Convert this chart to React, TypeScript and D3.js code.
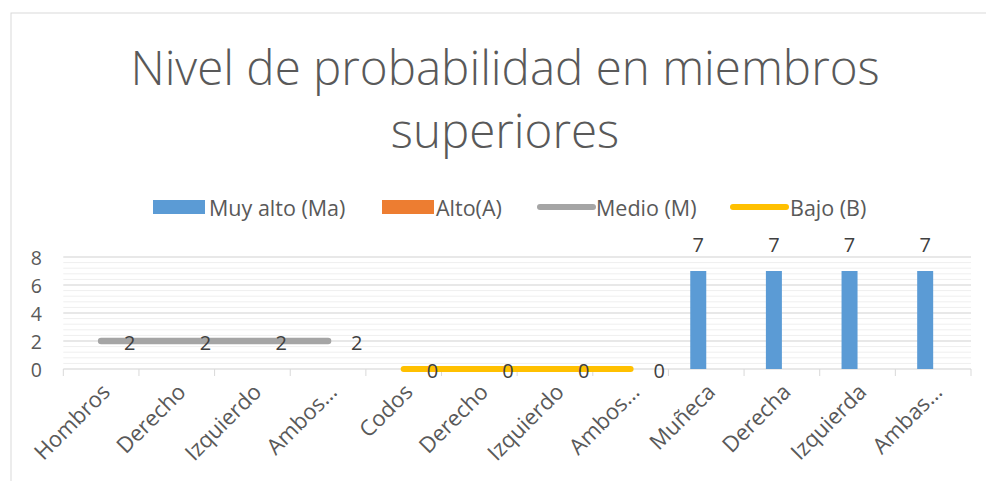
import React from "react";
import * as d3 from "d3";

const categories = [
  "Hombros", "Derecho", "Izquierdo", "Ambos…",
  "Codos", "Derecho", "Izquierdo", "Ambos…",
  "Muñeca", "Derecha", "Izquierda", "Ambas…",
];
const muyAlto: (number | null)[] = [null, null, null, null, null, null, null, null, 7, 7, 7, 7];
const alto: (number | null)[] = [null, null, null, null, null, null, null, null, null, null, null, null];
const medio: (number | null)[] = [2, 2, 2, 2, null, null, null, null, null, null, null, null];
const bajo: (number | null)[] = [null, null, null, null, 0, 0, 0, 0, null, null, null, null];
const yTicks = [0, 2, 4, 6, 8];
const titleLines = ["Nivel de probabilidad en miembros", "superiores"];
const legendItems = [
  { name: "Muy alto (Ma)", kind: "bar", color: "#5B9BD5" },
  { name: "Alto(A)", kind: "bar", color: "#ED7D31" },
  { name: "Medio (M)", kind: "line", color: "#A5A5A5" },
  { name: "Bajo (B)", kind: "line", color: "#FFC000" },
];

const W = 986;
const H = 481;
const FONT = "'Open Sans', 'DejaVu Sans', sans-serif";
const TXT = "#595959";

export default function App() {
  const left = 63.3, right = 971, top = 257, bottom = 369;
  const x = d3.scaleBand<number>().domain(d3.range(categories.length)).range([left, right]).padding(0);
  const bw = x.bandwidth();
  const barW = 16;
  const inner = d3.scaleBand<string>().domain(["Ma", "A"]).range([0, bw])
    .paddingInner(0).paddingOuter((bw - 2 * barW) / 2 / barW);
  const y = d3.scaleLinear().domain([0, 8]).range([bottom, top]);
  const minor = d3.range(0, 8.001, 0.4);
  const cx = (i: number) => (x(i) as number) + bw / 2;

  const lineGen = d3.line<[number, number | null]>()
    .defined((d) => d[1] !== null)
    .x((d) => cx(d[0]))
    .y((d) => y(d[1] as number));

  const medioPts = medio.map((v, i) => [i, v] as [number, number | null]);
  const bajoPts = bajo.map((v, i) => [i, v] as [number, number | null]);

  const legendY = 207;
  const legendPositions = [153, 382, 537, 730];
  const legendTextX = [209, 436, 596, 790];

  return (
    <svg width={W} height={H} style={{ display: "block", position: "absolute", left: 0, top: 0 }}>
      <rect x={0} y={0} width={W} height={H} fill="#ffffff" />
      <rect x={11} y={13} width={W + 20} height={H + 20} fill="none" stroke="#d9d9d9" strokeWidth={1} />

      {titleLines.map((t, i) => (
        <text key={i} x={505} y={85 + i * 63} textAnchor="middle" fontFamily={FONT} fontWeight={300}
          fontSize={47.5} fill={TXT}>{t}</text>
      ))}

      {legendItems.map((it, i) => (
        <g key={it.name}>
          {it.kind === "bar" ? (
            <rect x={legendPositions[i]} y={legendY - 7} width={52} height={14} fill={it.color} />
          ) : (
            <line x1={legendPositions[i] + 3} x2={legendPositions[i] + 56} y1={legendY} y2={legendY}
              stroke={it.color} strokeWidth={6} strokeLinecap="round" />
          )}
          <text x={legendTextX[i]} y={legendY} dominantBaseline="central" fontFamily={FONT} fontSize={21.5} fill={TXT}>
            {it.name}
          </text>
        </g>
      ))}

      {minor.map((v, i) => (
        <line key={"m" + i} x1={left} x2={right} y1={y(v)} y2={y(v)} stroke="#efefef" strokeWidth={1} />
      ))}
      {yTicks.map((v) => (
        <line key={"g" + v} x1={left} x2={right} y1={y(v)} y2={y(v)} stroke="#d9d9d9" strokeWidth={1} />
      ))}
      {yTicks.map((v) => (
        <text key={"t" + v} x={42} y={y(v)} textAnchor="end" dominantBaseline="central" fontFamily={FONT}
          fontSize={19.5} fill={TXT}>{v}</text>
      ))}

      {d3.range(categories.length + 1).map((i) => {
        const xx = i < categories.length ? (x(i) as number) : right;
        return <line key={"xt" + i} x1={xx} x2={xx} y1={bottom} y2={bottom + 7} stroke="#d9d9d9" strokeWidth={1} />;
      })}

      {muyAlto.map((v, i) =>
        v === null ? null : (
          <rect key={"ma" + i} x={(x(i) as number) + (inner("Ma") as number)} y={y(v)} width={inner.bandwidth()}
            height={y(0) - y(v)} fill="#5B9BD5" />
        )
      )}
      {alto.map((v, i) =>
        v === null ? null : (
          <rect key={"a" + i} x={(x(i) as number) + (inner("A") as number)} y={y(v)} width={inner.bandwidth()}
            height={y(0) - y(v)} fill="#ED7D31" />
        )
      )}

      <path d={lineGen(medioPts) || ""} fill="none" stroke="#A5A5A5" strokeWidth={6.5} strokeLinecap="round" />
      <path d={lineGen(bajoPts) || ""} fill="none" stroke="#FFC000" strokeWidth={6} strokeLinecap="round" />

      {muyAlto.map((v, i) =>
        v === null ? null : (
          <text key={"lma" + i} x={(x(i) as number) + (inner("Ma") as number) + inner.bandwidth() / 2} y={y(v) - 19}
            textAnchor="middle" fontFamily={FONT} fontSize={20} fill="#404040">{v}</text>
        )
      )}
      {medio.map((v, i) =>
        v === null ? null : (
          <text key={"lm" + i} x={cx(i) + 23} y={y(v) + 1} dominantBaseline="central" fontFamily={FONT}
            fontSize={20} fill="#404040">{v}</text>
        )
      )}
      {bajo.map((v, i) =>
        v === null ? null : (
          <text key={"lb" + i} x={cx(i) + 23} y={y(v) + 1} dominantBaseline="central" fontFamily={FONT}
            fontSize={20} fill="#404040">{v}</text>
        )
      )}

      {categories.map((c, i) => (
        <text key={"c" + i} transform={`translate(${cx(i) + 4},${bottom + 18}) rotate(-45)`} textAnchor="end"
          dominantBaseline="central" fontFamily={FONT} fontSize={22} fill={TXT}>{c}</text>
      ))}
    </svg>
  );
}
